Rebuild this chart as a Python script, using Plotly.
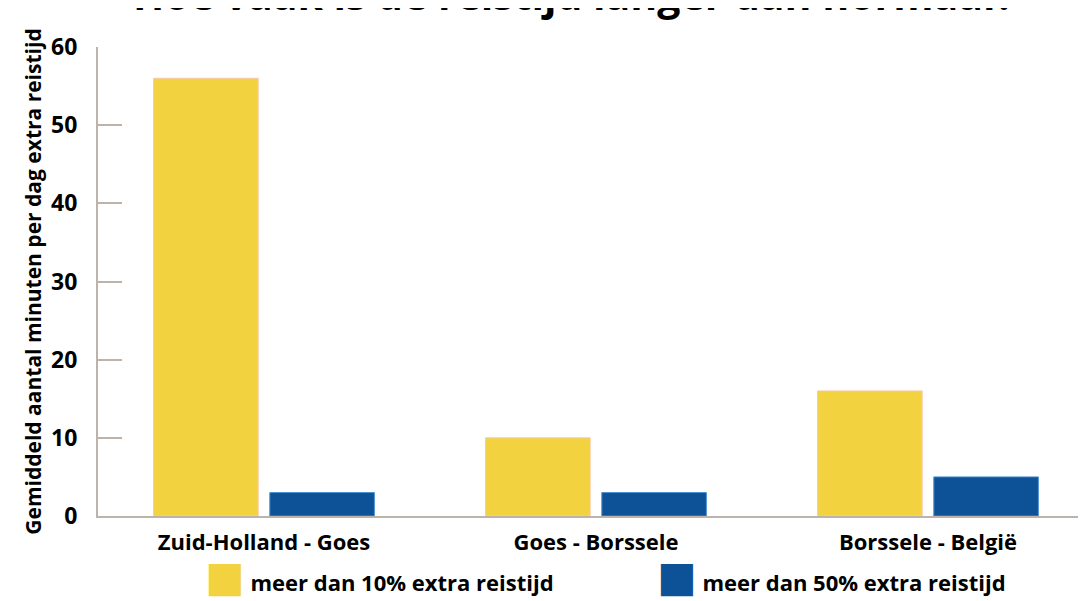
import plotly.graph_objects as go

categories = ["Zuid-Holland - Goes", "Goes - Borssele", "Borssele - België"]
meer_10 = [56, 10, 16]
meer_50 = [3, 3, 5]
series_names = ["meer dan 10% extra reistijd", "meer dan 50% extra reistijd"]
yticks = [0, 10, 20, 30, 40, 50, 60]

YELLOW = "#F2D33F"
BLUE = "#0D5296"
AXIS = "#BDB3AB"
FONT = "Open Sans"

fig = go.Figure()
fig.add_trace(go.Bar(x=categories, y=meer_10, name=series_names[0],
                     marker=dict(color=YELLOW, line=dict(color="#F6C9A8", width=1)),
                     showlegend=False))
fig.add_trace(go.Bar(x=categories, y=meer_50, name=series_names[1],
                     marker=dict(color=BLUE, line=dict(color="#4C8FD0", width=1)),
                     showlegend=False))

# legend entries with large square swatches
for name, col in zip(series_names, [YELLOW, BLUE]):
    fig.add_trace(go.Scatter(
        x=[None], y=[None], mode="lines", line=dict(width=0, color=col),
        name=f'<span style="font-family:DejaVu Sans;font-size:42px;color:{col}">■</span> {name}',
        showlegend=True, hoverinfo="skip"))

fig.update_layout(
    width=1086, height=601,
    margin=dict(l=90, r=0, t=39, b=93),
    paper_bgcolor="white", plot_bgcolor="white",
    barmode="group", bargap=0.3, bargroupgap=0.1,
    font=dict(family=FONT, color="black", size=22, weight=700),
    title=dict(text="Hoe vaak is de reistijd langer dan normaal?",
               font=dict(family=FONT, size=41, weight=700, color="black"),
               x=566 / 1086, xanchor="center", xref="container",
               y=1 - 2 / 601, yanchor="bottom", yref="container"),
    xaxis=dict(range=[-0.5, 2.5], showline=True, linecolor=AXIS, linewidth=2,
               ticks="", showgrid=False, zeroline=False, automargin=False,
               tickfont=dict(family=FONT, size=22, weight=700), ticklabelstandoff=6),
    yaxis=dict(range=[0, 60], tickvals=yticks, showline=True, linecolor=AXIS, linewidth=2,
               ticks="inside", ticklen=24, tickcolor=AXIS, tickwidth=2,
               showgrid=False, zeroline=False, automargin=False,
               tickfont=dict(family=FONT, size=23, weight=700), ticklabelstandoff=14,
               title=dict(text="Gemiddeld aantal minuten per dag extra reistijd",
                          font=dict(family=FONT, size=21, weight=700), standoff=4)),
    legend=dict(orientation="h", xref="container", x=157 / 1086, xanchor="left",
                yref="container", y=1 - 575 / 601, yanchor="middle",
                font=dict(family=FONT, size=22, weight=700),
                itemwidth=30, entrywidthmode="pixels", entrywidth=407,
                bgcolor="rgba(0,0,0,0)"),
)

fig.write_html("out.html")
